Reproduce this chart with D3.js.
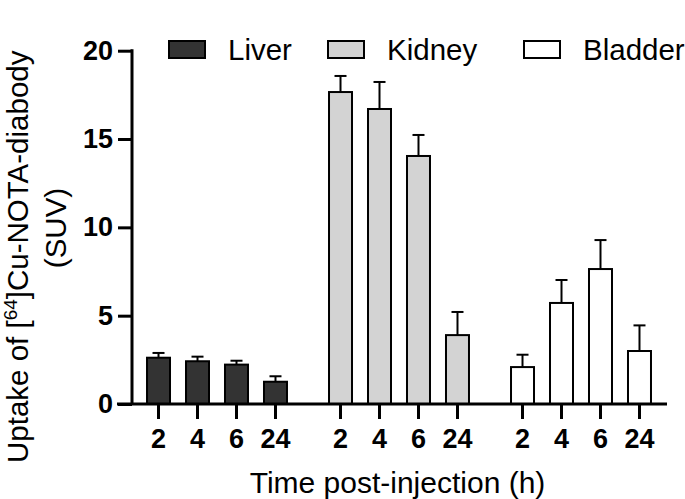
<!DOCTYPE html>
<html>
<head>
<meta charset="utf-8">
<script src="https://cdn.jsdelivr.net/npm/d3@7/dist/d3.min.js"></script>
<style>
  html, body { margin: 0; padding: 0; background: #fff; }
  svg { display: block; font-family: "Liberation Sans", Arial, sans-serif; }
</style>
</head>
<body>
<svg id="chart" width="685" height="499"></svg>
<script>
// ---- data ----
const organs = ["Liver", "Kidney", "Bladder"];
const times = ["2", "4", "6", "24"];
const liverMean = [2.62, 2.42, 2.23, 1.26];
const liverSD = [0.27, 0.26, 0.22, 0.31];
const kidneyMean = [17.66, 16.70, 14.04, 3.90];
const kidneySD = [0.91, 1.53, 1.19, 1.31];
const bladderMean = [2.09, 5.72, 7.64, 3.00];
const bladderSD = [0.70, 1.30, 1.64, 1.45];
const yTicks = [0, 5, 10, 15, 20];
const organColors = ["#333333", "#d3d3d3", "#ffffff"];

const means = [liverMean, kidneyMean, bladderMean];
const sds = [liverSD, kidneySD, bladderSD];
const data = [];
organs.forEach((o, gi) => times.forEach((t, ti) => {
  data.push({ organ: o, time: t, mean: means[gi][ti], sd: sds[gi][ti] });
}));

// ---- layout ----
const svg = d3.select("#chart");
const y0 = 404, yTop = 50.7, axisX = 132, axisRight = 667;

const y = d3.scaleLinear().domain([0, 20]).range([y0, yTop]);
const xGroup = d3.scaleBand().domain(organs).range([126, 672]).paddingInner(0.143).paddingOuter(0.0715);
const xTime = d3.scaleBand().domain(times).range([0, xGroup.bandwidth()]).paddingInner(0.359).paddingOuter(0.1795);
const color = d3.scaleOrdinal().domain(organs).range(organColors);

// error bars (upper only)
const capHalf = 6;
const eb = svg.append("g").attr("stroke", "#000").attr("stroke-width", 2).attr("fill", "none");
data.forEach(d => {
  const cx = xGroup(d.organ) + xTime(d.time) + xTime.bandwidth() / 2;
  eb.append("line").attr("x1", cx).attr("x2", cx).attr("y1", y(d.mean)).attr("y2", y(d.mean + d.sd));
  eb.append("line").attr("x1", cx - capHalf).attr("x2", cx + capHalf).attr("y1", y(d.mean + d.sd)).attr("y2", y(d.mean + d.sd));
});

// bars
svg.append("g").selectAll("rect").data(data).join("rect")
  .attr("x", d => xGroup(d.organ) + xTime(d.time) + 1)
  .attr("width", xTime.bandwidth() - 2)
  .attr("y", d => y(d.mean))
  .attr("height", d => y0 - y(d.mean))
  .attr("fill", d => color(d.organ))
  .attr("stroke", "#000")
  .attr("stroke-width", 2);

// y axis
const yAxis = svg.append("g").attr("transform", `translate(${axisX},0)`)
  .call(d3.axisLeft(y).tickValues(yTicks).tickFormat(d3.format("d")).tickSize(14).tickPadding(5).tickSizeOuter(0));
yAxis.select(".domain").attr("stroke-width", 3).attr("d", `M0,${yTop - 1.5}V${y0}`);
yAxis.selectAll(".tick line").attr("stroke-width", 3);
yAxis.selectAll(".tick text").attr("font-size", 27).attr("font-weight", "bold").attr("fill", "#000")
  .attr("font-family", "Liberation Sans, Arial, sans-serif");

// x axis line
svg.append("line").attr("x1", axisX - 15).attr("x2", axisRight).attr("y1", y0).attr("y2", y0)
  .attr("stroke", "#000").attr("stroke-width", 3);

// x axis ticks per group
organs.forEach(o => {
  const g = svg.append("g").attr("transform", `translate(${xGroup(o)},${y0})`)
    .call(d3.axisBottom(xTime).tickSize(15).tickPadding(10).tickSizeOuter(0));
  g.select(".domain").remove();
  g.selectAll(".tick line").attr("stroke-width", 3);
  g.selectAll(".tick text").attr("font-size", 27).attr("font-weight", "bold").attr("fill", "#000")
    .attr("font-family", "Liberation Sans, Arial, sans-serif");
});

// x title
svg.append("text").attr("x", 397.5).attr("y", 493).attr("text-anchor", "middle")
  .attr("font-size", 30).attr("fill", "#000").text("Time post-injection (h)");

// y title
const yt = svg.append("text").attr("transform", "translate(28,463) rotate(-90)")
  .attr("text-anchor", "start").attr("font-size", 29.5).attr("fill", "#000");
yt.append("tspan").text("Uptake of [");
yt.append("tspan").attr("font-size", 19).attr("dy", -11).text("64");
yt.append("tspan").attr("dy", 11).text("]Cu-NOTA-diabody");
svg.append("text").attr("transform", "translate(66,228) rotate(-90)")
  .attr("text-anchor", "middle").attr("font-size", 29.5).attr("fill", "#000").text("(SUV)");

// legend
const legendX = [168, 327, 523];
const leg = svg.append("g");
organs.forEach((o, i) => {
  leg.append("rect").attr("x", legendX[i] + 1).attr("y", 41).attr("width", 36).attr("height", 17)
    .attr("fill", color(o)).attr("stroke", "#000").attr("stroke-width", 2);
  leg.append("text").attr("x", legendX[i] + 60).attr("y", 59.5).attr("font-size", 29.5).attr("fill", "#000").text(o);
});
</script>
</body>
</html>
